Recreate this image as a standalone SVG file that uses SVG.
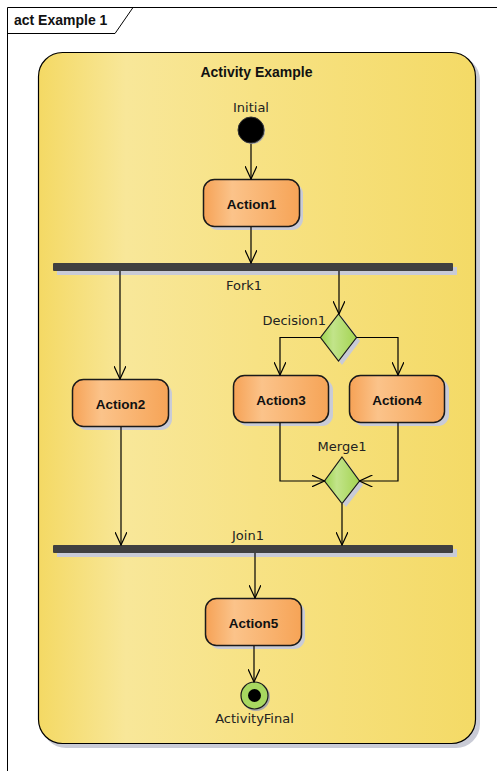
<svg xmlns="http://www.w3.org/2000/svg" width="497" height="771" viewBox="0 0 497 771">
  <defs>
    <linearGradient id="actBg" x1="0" y1="0" x2="1" y2="0">
      <stop offset="0" stop-color="#F4D964"/>
      <stop offset="0.2" stop-color="#F8E799"/>
      <stop offset="0.5" stop-color="#F7E284"/>
      <stop offset="1" stop-color="#F4DA66"/>
    </linearGradient>
    <linearGradient id="actionFill" x1="0" y1="0" x2="1" y2="0">
      <stop offset="0" stop-color="#F6A256"/>
      <stop offset="0.3" stop-color="#FBC38A"/>
      <stop offset="1" stop-color="#F6A457"/>
    </linearGradient>
    <linearGradient id="diamondFill" x1="0" y1="0" x2="1" y2="0">
      <stop offset="0" stop-color="#9DD44E"/>
      <stop offset="0.35" stop-color="#C2E48A"/>
      <stop offset="1" stop-color="#A4D452"/>
    </linearGradient>
    <marker id="open" viewBox="0 0 14 12" refX="13" refY="6" markerWidth="14" markerHeight="12" markerUnits="userSpaceOnUse" orient="auto">
      <path d="M0,0 L13,6 L0,12" fill="none" stroke="#000" stroke-width="1.2"/>
    </marker>
  </defs>
  <style>
    .frame { fill: none; stroke: #000; stroke-width: 1; }
    .shadow { fill: #C9CBD6; }
    .action { fill: url(#actionFill); stroke: #1a1a1a; stroke-width: 1.5; }
    .bar { fill: #404040; }
    .diamond { fill: url(#diamondFill); stroke: #1a1a1a; stroke-width: 1.2; }
    .flow { fill: none; stroke: #000; stroke-width: 1.2; marker-end: url(#open); }
    .lbl { font-family: "DejaVu Sans", Verdana, sans-serif; font-size: 13px; fill: #222; }
    .bold { font-family: "Liberation Sans", Arial, sans-serif; font-size: 13.5px; font-weight: bold; fill: #111; }
    .title { font-family: "Liberation Sans", Arial, sans-serif; font-size: 14px; font-weight: bold; fill: #111; }
  </style>

  <rect width="497" height="771" fill="#fff"/>

  <!-- diagram frame -->
  <g id="frame">
    <path class="frame" d="M7.5,771 L7.5,7.5 L497,7.5"/>
    <path class="frame" d="M7.5,33.5 L115,33.5 L133,7.5"/>
    <text class="title" x="14" y="25">act Example 1</text>
  </g>

  <!-- activity container -->
  <g id="activity">
    <rect class="shadow" x="42" y="56" width="438" height="692" rx="24"/>
    <rect x="38.5" y="52.5" width="437" height="691" rx="24" fill="url(#actBg)" stroke="#000" stroke-width="1.2"/>
    <text class="title" x="256.5" y="77" text-anchor="middle">Activity Example</text>
  </g>

  <g id="initial">
    <circle cx="252" cy="131" r="13" fill="#aaa"/>
    <circle cx="251" cy="130" r="13" fill="#000" stroke="#333" stroke-width="1"/>
    <text class="lbl" x="251" y="112" text-anchor="middle">Initial</text>
  </g>

  <g id="action1">
    <rect class="shadow" x="207" y="183" width="96" height="47" rx="11"/>
    <rect class="action" x="203.5" y="179.5" width="96" height="47" rx="11"/>
    <text class="bold" x="251.5" y="209" text-anchor="middle">Action1</text>
  </g>

  <g id="fork1">
    <rect class="shadow" x="57" y="267" width="400" height="8"/>
    <rect class="bar" x="53" y="263" width="400" height="8" rx="1"/>
    <text class="lbl" x="244" y="290" text-anchor="middle">Fork1</text>
  </g>

  <g id="action2">
    <rect class="shadow" x="76" y="383" width="96" height="47" rx="11"/>
    <rect class="action" x="72.5" y="379.5" width="96" height="47" rx="11"/>
    <text class="bold" x="120.5" y="409" text-anchor="middle">Action2</text>
  </g>

  <g id="decision1">
    <path class="shadow" d="M342,317 L360,341 L342,365 L324,341 Z"/>
    <path class="diamond" d="M338.5,314 L356.5,337.5 L338.5,361 L320.5,337.5 Z"/>
    <text class="lbl" x="326" y="325" text-anchor="end">Decision1</text>
  </g>

  <g id="action3">
    <rect class="shadow" x="237" y="379" width="96" height="47" rx="11"/>
    <rect class="action" x="233.5" y="375.5" width="95" height="47" rx="11"/>
    <text class="bold" x="281" y="405" text-anchor="middle">Action3</text>
  </g>

  <g id="action4">
    <rect class="shadow" x="353" y="379" width="96" height="47" rx="11"/>
    <rect class="action" x="349.5" y="375.5" width="95" height="47" rx="11"/>
    <text class="bold" x="397" y="405" text-anchor="middle">Action4</text>
  </g>

  <g id="merge1">
    <path class="shadow" d="M346,461 L363,485 L346,507 L328,485 Z"/>
    <path class="diamond" d="M342,457 L359.5,481 L342,503.5 L324.5,481 Z"/>
    <text class="lbl" x="342" y="451" text-anchor="middle">Merge1</text>
  </g>

  <g id="join1">
    <rect class="shadow" x="57" y="549" width="400" height="8"/>
    <rect class="bar" x="53" y="545" width="400" height="8" rx="1"/>
    <text class="lbl" x="248" y="540" text-anchor="middle">Join1</text>
  </g>

  <g id="action5">
    <rect class="shadow" x="209" y="602" width="96" height="47" rx="11"/>
    <rect class="action" x="205.5" y="598.5" width="96" height="47" rx="11"/>
    <text class="bold" x="253.5" y="628" text-anchor="middle">Action5</text>
  </g>

  <g id="activityFinal">
    <circle cx="256" cy="697" r="14" fill="#aaa"/>
    <circle cx="254.5" cy="695.5" r="13.5" fill="#A8D860" stroke="#1a1a1a" stroke-width="1.2"/>
    <circle cx="254.5" cy="695.5" r="6.5" fill="#000"/>
    <text class="lbl" x="254.5" y="723" text-anchor="middle">ActivityFinal</text>
  </g>

  <!-- control flows -->
  <g id="connectors">
    <path class="flow" d="M251,144 L251,179"/>
    <path class="flow" d="M251,227 L251,263"/>
    <path class="flow" d="M120,271 L120,379"/>
    <path class="flow" d="M339,271 L339,314"/>
    <path class="flow" d="M320.5,337.5 L280,337.5 L280,375"/>
    <path class="flow" d="M356.5,337.5 L398,337.5 L398,375"/>
    <path class="flow" d="M121,427 L121,545"/>
    <path class="flow" d="M280,423 L280,481 L324.5,481"/>
    <path class="flow" d="M398,423 L398,481 L359.5,481"/>
    <path class="flow" d="M342,504 L342,545"/>
    <path class="flow" d="M255,553 L255,598"/>
    <path class="flow" d="M254,646 L254,682"/>
  </g>
</svg>
